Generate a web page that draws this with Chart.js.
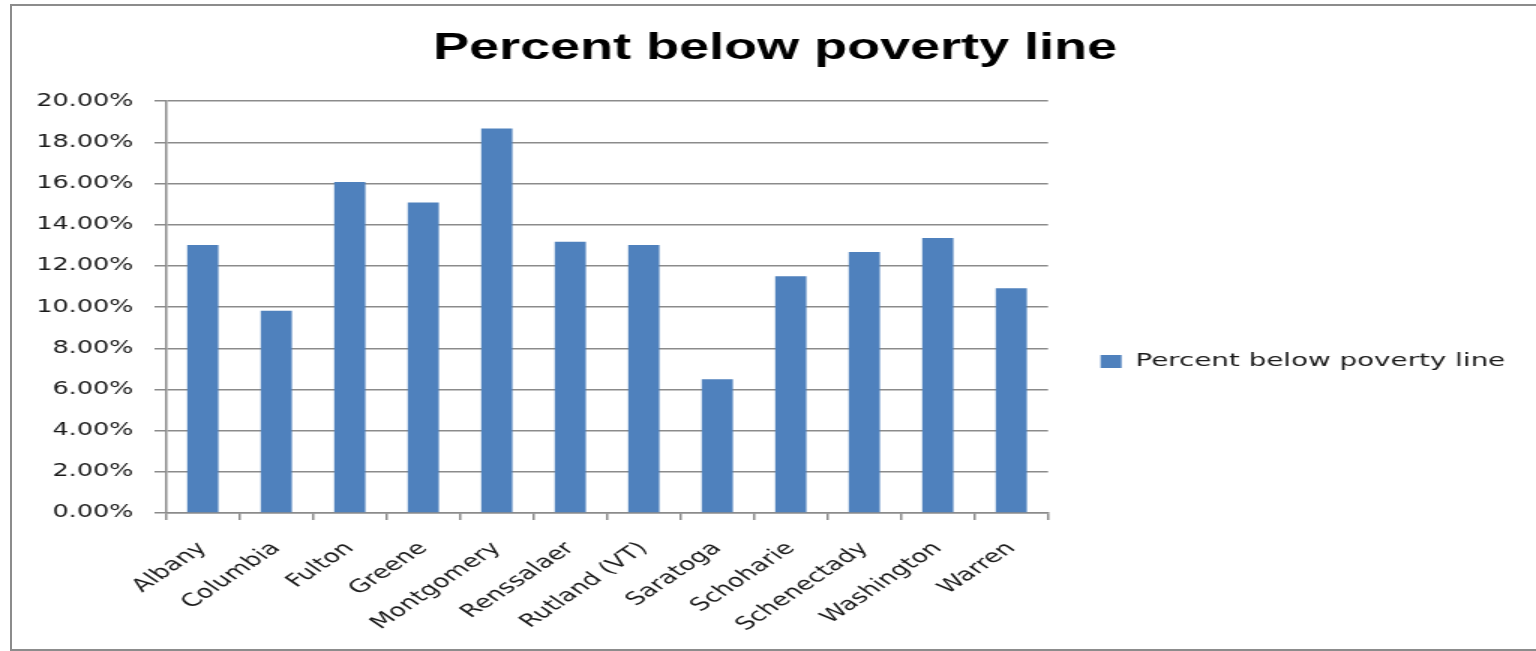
<!DOCTYPE html>
<html><head><meta charset="utf-8">
<script src="https://cdn.jsdelivr.net/npm/chart.js@4/dist/chart.umd.min.js"></script>
<style>
html,body{margin:0;padding:0;background:#fff;overflow:hidden;width:1536px;height:651px}
#frame{position:absolute;left:10px;top:4px;width:1600px;height:643px;border:2px solid #8c8c8c;border-right:none;box-sizing:content-box}
#wrap{position:absolute;left:0;top:0;width:1024px;height:651px;transform:scaleX(1.5);transform-origin:0 0}
</style></head><body>
<div id="frame"></div>
<div id="wrap"><canvas id="c" width="1024" height="651"></canvas></div>
<script>
const categories = ['Albany','Columbia','Fulton','Greene','Montgomery','Renssalaer','Rutland (VT)','Saratoga','Schoharie','Schenectady','Washington','Warren'];
const seriesLabel = 'Percent below poverty line';
const percentBelowPoverty = [13.01, 9.82, 16.08, 15.08, 18.67, 13.17, 13.01, 6.50, 11.50, 12.67, 13.35, 10.92];
const yMin = 0, yMax = 20, yStep = 2;
const titleText = 'Percent below poverty line';

const gridColor = '#8b8b8b';
const textColor = '#1a1a1a';

new Chart(document.getElementById('c'), {
  type: 'bar',
  data: {
    labels: categories,
    datasets: [{
      label: seriesLabel,
      data: percentBelowPoverty,
      backgroundColor: '#4F81BD',
      borderWidth: 0,
      categoryPercentage: 1,
      barPercentage: 0.424
    }]
  },
  options: {
    responsive: false,
    animation: false,
    devicePixelRatio: 1,
    layout: { padding: { left: 20, right: 10.5, top: 6, bottom: 4 } },
    plugins: {
      title: {
        display: true,
        text: titleText,
        color: '#000',
        font: { family: 'Liberation Sans', size: 36, weight: 'bold', lineHeight: 1.2 },
        padding: { top: 21, bottom: 31 }
      },
      legend: {
        position: 'right',
        maxWidth: 400,
        title: { display: true, text: '', padding: { top: 28, bottom: 27.6 } },
        labels: {
          color: textColor,
          font: { family: 'DejaVu Sans', size: 18.5 },
          boxWidth: 14,
          boxHeight: 13,
          padding: 35
        }
      },
      tooltip: { enabled: false }
    },
    scales: {
      x: {
        grid: { display: true, drawOnChartArea: false, drawTicks: true, tickLength: 7, color: gridColor, lineWidth: 1.5, offset: true },
        border: { display: true, color: gridColor, width: 1.5 },
        ticks: {
          color: textColor,
          font: { family: 'DejaVu Sans', size: 18 },
          minRotation: 45, maxRotation: 45,
          padding: 18,
          autoSkip: false
        },
        afterFit: (s) => { s.height = 651 - 4 - 513; }
      },
      y: {
        min: yMin, max: yMax,
        grid: { color: gridColor, lineWidth: 1.5, tickLength: 7.7, drawTicks: true },
        border: { display: true, color: gridColor, width: 1.5 },
        ticks: {
          stepSize: yStep,
          color: textColor,
          font: { family: 'DejaVu Sans', size: 17 },
          padding: 14,
          callback: (v) => Number(v).toFixed(2) + '%'
        },
        afterFit: (s) => { s.width = 110.7 - 20; }
      }
    }
  }
});
</script>
</body></html>
